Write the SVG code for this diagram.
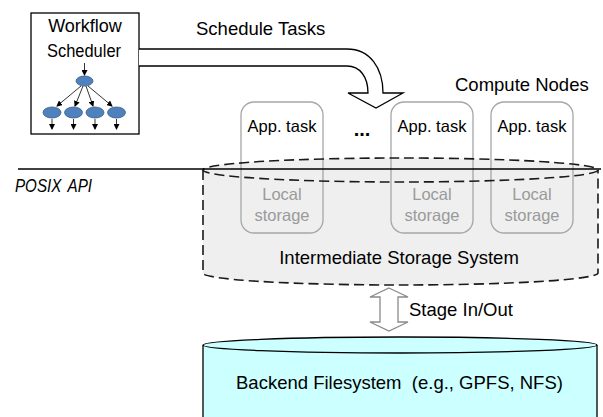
<svg xmlns="http://www.w3.org/2000/svg" width="603" height="417" viewBox="0 0 603 417">
<style>
text{font-family:"Liberation Sans",Arial,sans-serif;fill:#000}
.t17{font-size:18px}
.t18{font-size:18.5px}
.app{font-size:16.5px;text-anchor:middle}
.loc{font-size:16.5px;text-anchor:middle;fill:#9a9a9a}
.node{fill:none;stroke:#a6a6a6;stroke-width:1.3}
.dash{fill:none;stroke:#1a1a1a;stroke-width:1.6;stroke-dasharray:10 5}
.mini{fill:#4f81bd;stroke:#385d8a;stroke-width:0.8}
.ma{stroke:#000;stroke-width:0.8;fill:none;marker-end:url(#ah)}
</style>
<defs>
<marker id="ah" markerWidth="6" markerHeight="6" refX="5" refY="3" orient="auto" markerUnits="userSpaceOnUse">
<path d="M0,0 L6,3 L0,6 Z" fill="#000"/>
</marker>
</defs>
<rect width="603" height="417" fill="#fff"/>

<g id="intermediate-storage">
<path d="M203,170 L203,273 A197.5,12 0 0 0 598,273 L598,170 A197.5,12 0 0 0 203,170 Z" fill="#efefef"/>
</g>

<g id="compute-node-1">
<rect class="node" x="241" y="102" width="82" height="131" rx="13"/>
<text class="app" x="282" y="132">App. task</text>
<text class="loc" x="282" y="200">Local</text>
<text class="loc" x="282" y="221">storage</text>
</g>
<g id="compute-node-2">
<rect class="node" x="391" y="102" width="82" height="131" rx="13"/>
<text class="app" x="432" y="132">App. task</text>
<text class="loc" x="432" y="200">Local</text>
<text class="loc" x="432" y="221">storage</text>
</g>
<g id="compute-node-3">
<rect class="node" x="491" y="102" width="82" height="131" rx="13"/>
<text class="app" x="532" y="132">App. task</text>
<text class="loc" x="532" y="200">Local</text>
<text class="loc" x="532" y="221">storage</text>
</g>
<text x="362" y="136" style="font-size:20px;font-weight:bold" text-anchor="middle">...</text>
<text class="t18" x="455" y="91">Compute Nodes</text>

<g id="intermediate-outline">
<ellipse class="dash" cx="400.5" cy="170" rx="197.5" ry="12"/>
<path class="dash" d="M203,170 L203,273 A197.5,12 0 0 0 598,273 L598,170"/>
<text class="t18" x="399" y="264" text-anchor="middle">Intermediate Storage System</text>
</g>

<g id="posix">
<line x1="18" y1="169" x2="601" y2="169" stroke="#000" stroke-width="1.4"/>
<text x="15" y="192" textLength="77" lengthAdjust="spacingAndGlyphs" style="font-size:17.5px;font-style:italic;word-spacing:3px">POSIX API</text>
</g>

<g id="workflow-scheduler">
<rect x="31" y="13" width="108" height="121" fill="#fff" stroke="#000" stroke-width="1.3"/>
<text class="t17" x="85" y="31.5" text-anchor="middle">Workflow</text>
<text x="47" y="56.5" textLength="74" lengthAdjust="spacingAndGlyphs" style="font-size:18px">Scheduler</text>
<line class="ma" x1="84.5" y1="63" x2="84.5" y2="75"/>
<ellipse class="mini" cx="84.5" cy="81" rx="8.5" ry="5"/>
<line class="ma" x1="81" y1="86" x2="57" y2="106"/>
<line class="ma" x1="83" y1="86" x2="75" y2="106"/>
<line class="ma" x1="86" y1="86" x2="93" y2="106"/>
<line class="ma" x1="88" y1="86" x2="112" y2="106"/>
<ellipse class="mini" cx="52" cy="112.5" rx="9" ry="5.5"/>
<ellipse class="mini" cx="73.5" cy="112.5" rx="9" ry="5.5"/>
<ellipse class="mini" cx="95" cy="112.5" rx="9" ry="5.5"/>
<ellipse class="mini" cx="116.5" cy="112.5" rx="9" ry="5.5"/>
<line class="ma" x1="52" y1="119" x2="52" y2="129"/>
<line class="ma" x1="73.5" y1="119" x2="73.5" y2="129"/>
<line class="ma" x1="95" y1="119" x2="95" y2="129"/>
<line class="ma" x1="116.5" y1="119" x2="116.5" y2="129"/>
</g>

<g id="connectors">
<path d="M139,49 L347,49 C370,49 383,68 383,93 L403,93 L376,108 L348,93 L368,93 C368,77 360,66 347,66 L139,66" fill="#fff" stroke="#000" stroke-width="1.3"/>
<path d="M389,288 L408,297 L398,297 L398,322 L408,322 L389,331 L370,322 L380,322 L380,297 L370,297 Z" fill="#fff" stroke="#8a8a8a" stroke-width="1.3"/>
</g>
<text class="t18" x="196" y="35">Schedule Tasks</text>
<text class="t18" x="409" y="316">Stage In/Out</text>

<g id="backend-filesystem">
<path d="M203,345 L203,420 L597,420 L597,345" fill="#ccffff" stroke="#000" stroke-width="1.3"/>
<ellipse cx="400" cy="345" rx="197" ry="8" fill="#ccffff" stroke="#000" stroke-width="1.3"/>
<text class="t18" x="236" y="389" style="white-space:pre">Backend Filesystem  (e.g., GPFS, NFS)</text>
</g>
</svg>
